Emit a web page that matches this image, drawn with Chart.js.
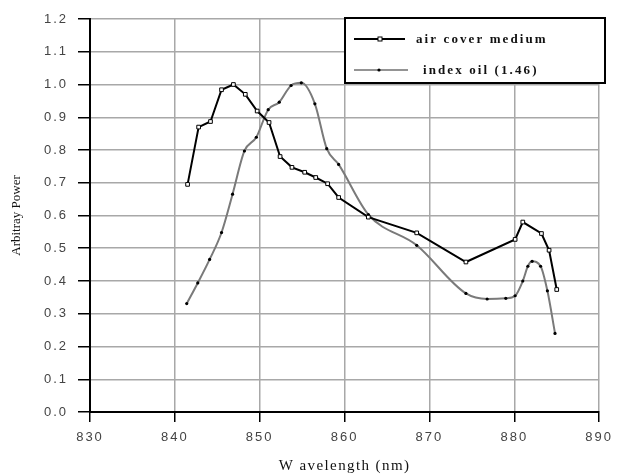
<!DOCTYPE html>
<html><head><meta charset="utf-8">
<script src="https://cdn.jsdelivr.net/npm/chart.js@4.4.0/dist/chart.umd.min.js"></script>
<style>html,body{margin:0;padding:0;background:#fff}#wrap{width:618px;height:475px}</style>
</head><body><div id="wrap"><canvas id="c" width="618" height="475"></canvas></div>
<script>
const xTicks = [830, 840, 850, 860, 870, 880, 890];
const yTicks = [0.0, 0.1, 0.2, 0.3, 0.4, 0.5, 0.6, 0.7, 0.8, 0.9, 1.0, 1.1, 1.2];
const seriesNames = ['air cover medium', 'index oil (1.46)'];
const xTitle = 'W avelength (nm)';
const yTitle = 'Arbitray Power';

const airX = [841.5, 842.8, 844.2, 845.5, 846.9, 848.3, 849.7, 851.1, 852.4, 853.8, 855.3, 856.6, 858.0, 859.3, 862.8, 868.5, 874.3, 880.1, 881.0, 883.2, 884.1, 885.0];
const airY = [0.695, 0.870, 0.887, 0.984, 1.000, 0.970, 0.919, 0.884, 0.780, 0.747, 0.732, 0.716, 0.697, 0.655, 0.595, 0.547, 0.458, 0.527, 0.580, 0.545, 0.494, 0.374];

const oilX = [841.4, 842.7, 844.1, 845.5, 846.8, 848.2, 849.6, 851.0, 852.3, 853.7, 854.9, 856.5, 857.9, 859.3, 862.8, 868.5, 874.3, 876.8, 879.0, 880.1, 881.0, 881.6, 882.1, 883.1, 883.9, 884.8];
const oilY = [0.331, 0.394, 0.466, 0.548, 0.665, 0.797, 0.839, 0.923, 0.946, 0.997, 1.005, 0.941, 0.804, 0.756, 0.603, 0.509, 0.362, 0.345, 0.347, 0.355, 0.400, 0.445, 0.460, 0.445, 0.370, 0.240];

const toPts = (xs, ys) => xs.map((x, i) => ({x: x, y: ys[i]}));

const decor = {
  id: 'decor',
  beforeDraw(chart) {
    chart.ctx.letterSpacing = '2px';
  },
  afterDraw(chart) {
    const ctx = chart.ctx;
    const a = chart.chartArea;
    ctx.save();
    // axis titles
    ctx.fillStyle = '#111';
    ctx.letterSpacing = '1.4px';
    ctx.font = '15px "Liberation Serif"';
    ctx.textAlign = 'center';
    ctx.textBaseline = 'middle';
    ctx.fillText(xTitle, (a.left + a.right) / 2, 466);
    ctx.save();
    ctx.translate(17, (a.top + a.bottom) / 2);
    ctx.rotate(-Math.PI / 2);
    ctx.letterSpacing = '0px';
    ctx.font = '13px "Liberation Serif"';
    ctx.fillText(yTitle, 0, 0);
    ctx.restore();
    // legend box
    const bx = 345, by = 18, bw = 260, bh = 65;
    ctx.fillStyle = '#fff';
    ctx.fillRect(bx, by, bw, bh);
    ctx.strokeStyle = '#000';
    ctx.lineWidth = 2;
    ctx.strokeRect(bx, by, bw, bh);
    // entry 1
    ctx.beginPath(); ctx.moveTo(354, 39); ctx.lineTo(405, 39); ctx.stroke();
    ctx.fillStyle = '#fff'; ctx.lineWidth = 1;
    ctx.fillRect(378, 37, 4, 4); ctx.strokeRect(378, 37, 4, 4);
    // entry 2
    ctx.strokeStyle = '#707070'; ctx.lineWidth = 1.5;
    ctx.beginPath(); ctx.moveTo(354, 70); ctx.lineTo(408, 70); ctx.stroke();
    ctx.fillStyle = '#000';
    ctx.beginPath(); ctx.arc(379, 70, 1.6, 0, Math.PI * 2); ctx.fill();
    ctx.fillStyle = '#111';
    ctx.font = 'bold 13px "Liberation Serif"';
    ctx.letterSpacing = '2.1px';
    ctx.textAlign = 'left';
    ctx.fillText(seriesNames[0], 416, 40);
    ctx.fillText(seriesNames[1], 423, 71);
    ctx.restore();
  }
};

const tickFont = {family: '"Liberation Sans", Arial, sans-serif', size: 13};

new Chart(document.getElementById('c'), {
  type: 'line',
  data: {
    datasets: [
      {
        label: seriesNames[0],
        data: toPts(airX, airY),
        borderColor: '#000',
        borderWidth: 2,
        pointStyle: 'rect',
        pointRadius: 2.6,
        pointBackgroundColor: '#fff',
        pointBorderColor: '#000',
        pointBorderWidth: 1,
        tension: 0
      },
      {
        label: seriesNames[1],
        data: toPts(oilX, oilY),
        borderColor: '#7a7a7a',
        borderWidth: 2,
        pointStyle: 'circle',
        pointRadius: 1.6,
        pointBackgroundColor: '#000',
        pointBorderColor: '#000',
        pointBorderWidth: 0,
        cubicInterpolationMode: 'monotone'
      }
    ]
  },
  options: {
    responsive: false,
    animation: false,
    devicePixelRatio: 1,
    layout: {padding: {left: 0, right: 13, top: 19, bottom: 0}},
    plugins: {legend: {display: false}, tooltip: {enabled: false}},
    scales: {
      x: {
        type: 'linear', min: 830, max: 890,
        afterBuildTicks: s => { s.ticks = xTicks.map(v => ({value: v})); },
        afterFit: s => { s.height = 63; },
        ticks: {font: tickFont, color: '#444', padding: 8, maxRotation: 0, callback: v => String(v)},
        grid: {color: '#a8a8a8', lineWidth: 1.5, tickLength: 10, tickColor: '#000', tickWidth: 1.5},
        border: {color: '#000', width: 2}
      },
      y: {
        type: 'linear', min: 0, max: 1.2,
        afterBuildTicks: s => { s.ticks = yTicks.map(v => ({value: v})); },
        afterFit: s => { s.width = 90; },
        ticks: {font: tickFont, color: '#444', padding: 10, callback: v => Number(v).toFixed(1)},
        grid: {color: '#a8a8a8', lineWidth: 1.5, tickLength: 12, tickColor: '#000', tickWidth: 1.5},
        border: {color: '#000', width: 2}
      }
    }
  },
  plugins: [decor]
});
</script>
</body></html>
